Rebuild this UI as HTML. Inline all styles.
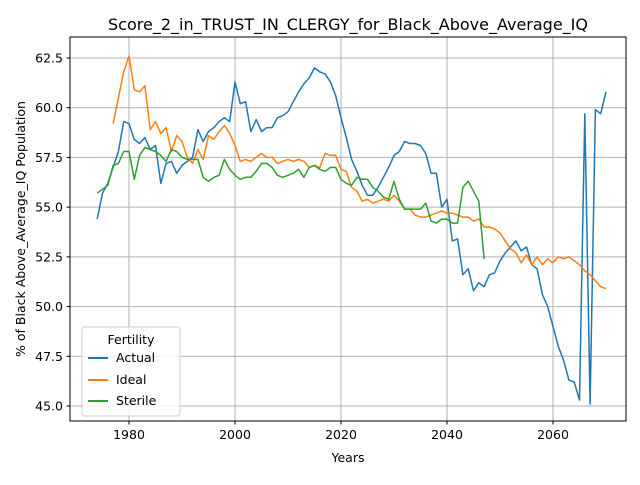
<!DOCTYPE html>
<html><head><meta charset="utf-8"><style>
body{margin:0;background:#fff}
svg{font-family:"DejaVu Sans","Liberation Sans",sans-serif}
</style></head><body>
<svg id="c" width="640" height="480" viewBox="0 0 640 480">
<rect width="640" height="480" fill="#fff"/>
<g id="grid"></g>
<g id="series"></g>
<rect x="70" y="37" width="556" height="384" fill="none" stroke="#000" stroke-width="1"/>
<g id="axes"></g>
<text x="348" y="30" font-size="16" text-anchor="middle">Score_2_in_TRUST_IN_CLERGY_for_Black_Above_Average_IQ</text>
<text x="348" y="462" font-size="12.5" text-anchor="middle">Years</text>
<text transform="translate(25,229) rotate(-90)" font-size="12.5" text-anchor="middle">% of Black Above_Average_IQ Population</text>
<g>
<rect x="82" y="327" width="98" height="89" rx="3" fill="#fff" fill-opacity="0.8" stroke="#ccc"/>
<text x="131" y="344" font-size="12.5" text-anchor="middle">Fertility</text>
<g><line x1="88" y1="358" x2="108" y2="358" stroke="#1f77b4" stroke-width="2"/><text x="116" y="362" font-size="12.5">Actual</text></g>
<g><line x1="88" y1="380" x2="108" y2="380" stroke="#ff7f0e" stroke-width="2"/><text x="116" y="384" font-size="12.5">Ideal</text></g>
<g><line x1="88" y1="401" x2="108" y2="401" stroke="#2ca02c" stroke-width="2"/><text x="116" y="405" font-size="12.5">Sterile</text></g>
</g>
</svg>
<script>
const xTicks=[1980,2000,2020,2040,2060];
const yTicks=[45.0,47.5,50.0,52.5,55.0,57.5,60.0,62.5];
const actualStart=1974;
const actual=[54.4,55.7,56.2,57.0,57.8,59.3,59.2,58.4,58.2,58.5,57.9,58.1,56.2,57.2,57.3,56.7,57.1,57.3,57.5,58.9,58.3,58.8,59.0,59.3,59.5,59.3,61.3,60.2,60.3,58.8,59.4,58.8,59.0,59.0,59.5,59.6,59.8,60.3,60.8,61.2,61.5,62.0,61.8,61.7,61.3,60.6,59.5,58.5,57.4,56.8,56.1,55.6,55.6,56.0,56.5,57.0,57.6,57.8,58.3,58.2,58.2,58.1,57.7,56.7,56.7,55.0,55.4,53.3,53.4,51.6,51.9,50.8,51.2,51.0,51.6,51.7,52.3,52.7,53.0,53.3,52.8,53.0,52.1,51.9,50.6,50.0,49.0,48.0,47.3,46.3,46.2,45.3,59.7,45.1,59.9,59.7,60.8];
const idealStart=1977;
const ideal=[59.2,60.5,61.8,62.6,60.9,60.8,61.1,58.9,59.3,58.7,59.0,57.8,58.6,58.3,57.5,57.2,57.9,57.4,58.6,58.4,58.8,59.1,58.7,58.1,57.3,57.4,57.3,57.5,57.7,57.5,57.5,57.2,57.3,57.4,57.3,57.4,57.3,57.0,57.1,57.0,57.7,57.6,57.6,56.9,56.8,56.0,55.8,55.3,55.4,55.2,55.3,55.4,55.3,55.6,55.3,54.9,54.9,54.6,54.5,54.5,54.6,54.7,54.8,54.7,54.7,54.6,54.5,54.5,54.3,54.4,54.0,54.0,53.9,53.7,53.3,52.9,52.7,52.2,52.6,52.1,52.5,52.1,52.4,52.2,52.5,52.4,52.5,52.3,52.1,51.8,51.6,51.3,51.0,50.9];
const sterileStart=1974;
const sterile=[55.7,55.9,56.1,57.1,57.2,57.8,57.8,56.4,57.6,58.0,57.9,57.8,57.6,57.3,57.9,57.8,57.5,57.4,57.4,57.4,56.5,56.3,56.5,56.6,57.4,56.9,56.6,56.4,56.5,56.5,56.8,57.2,57.2,57.0,56.6,56.5,56.6,56.7,56.9,56.5,57.0,57.1,56.9,56.8,57.0,57.0,56.4,56.2,56.1,56.5,56.4,56.4,56.0,55.8,55.5,55.4,56.3,55.4,54.9,54.9,54.9,54.9,55.2,54.3,54.2,54.4,54.4,54.2,54.2,56.0,56.3,55.8,55.3,52.4];

const NS="http://www.w3.org/2000/svg";
const X=y=>129+(y-1980)*5.3;
const Y=v=>406-(v-45)*(348/17.5);
function mk(tag,attrs,parent){const e=document.createElementNS(NS,tag);for(const k in attrs)e.setAttribute(k,attrs[k]);parent.appendChild(e);return e;}
const grid=document.getElementById('grid'),axes=document.getElementById('axes'),ser=document.getElementById('series');
xTicks.forEach(t=>{
  const gl=mk('line',{x1:X(t),x2:X(t),y1:37,y2:421,stroke:'#b0b0b0','stroke-width':1},grid);
  
  
  const tk=mk('line',{x1:X(t),x2:X(t),y1:421,y2:424.5,stroke:'#000'},axes);
  
  
  const tx=mk('text',{x:X(t),y:439,'font-size':12.5,'text-anchor':'middle'},axes);
  tx.textContent=t;
  
  
});
yTicks.forEach(t=>{
  const gl=mk('line',{x1:70,x2:626,y1:Y(t),y2:Y(t),stroke:'#b0b0b0','stroke-width':1},grid);
  
  
  const tk=mk('line',{x1:66.5,x2:70,y1:Y(t),y2:Y(t),stroke:'#000'},axes);
  
  
  const tx=mk('text',{x:63,y:Y(t)+4.5,'font-size':12.5,'text-anchor':'end'},axes);
  tx.textContent=t.toFixed(1);
  
  
});
function draw(vals,start,color,name){
  const pts=vals.map((v,i)=>X(start+i).toFixed(1)+','+Y(v).toFixed(1)).join(' ');
  const p=mk('polyline',{points:pts,fill:'none',stroke:color,'stroke-width':1.5,'stroke-linejoin':'round'},ser);
  
  
}
draw(actual,actualStart,'#1f77b4','actual-line');
draw(ideal,idealStart,'#ff7f0e','ideal-line');
draw(sterile,sterileStart,'#2ca02c','sterile-line');
</script>
</body></html>
